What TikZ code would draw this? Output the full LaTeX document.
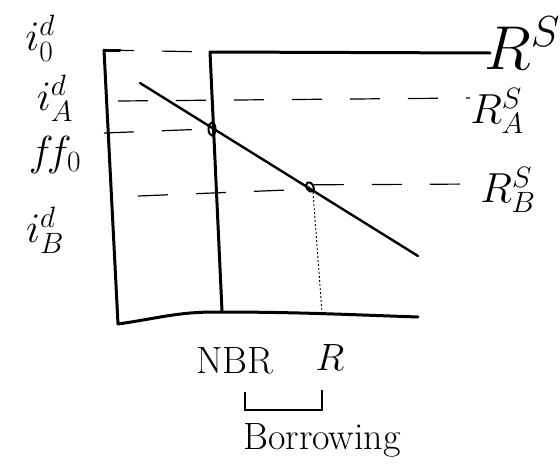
\RequirePackage{fix-cm}
\documentclass[tikz,border=0pt]{standalone}
\usepackage{amsmath}
\usepackage{tikz}
\usetikzlibrary{positioning,calc,shapes.geometric}
\tikzset{
  axisln/.style={line width=3pt,line cap=round,line join=round},
  curveln/.style={line width=2.4pt,line cap=round},
  dashln/.style={line width=1.2pt,dash pattern=on 30pt off 28pt},
  dotln/.style={line width=0.9pt,dash pattern=on 2pt off 2pt},
  lbl/.style={font=\fontsize{42}{44}\selectfont,inner sep=0pt},
  biglbl/.style={font=\fontsize{62}{64}\selectfont,inner sep=0pt},
  txt/.style={font=\fontsize{38}{40}\selectfont,inner sep=0pt},
  pt/.style={draw,line width=2pt,ellipse,minimum width=7pt,minimum height=13pt,inner sep=0pt},
}
\begin{document}
\begin{tikzpicture}[x=1pt,y=-1pt]
  \useasboundingbox (0,0) rectangle (560,466);
  % axes
  \coordinate (O)   at (118,324);
  \coordinate (Ytop) at (104,50);
  \coordinate (Xend) at (418,317);
  \draw[axisln] (Ytop) -- ++(16,0);
  \draw[axisln] (Ytop) -- (O) to[out=8,in=180] (215,312) to[out=0,in=178] (Xend);
  % supply of reserves
  \coordinate (Stop) at (210,52);
  \coordinate (Sbot) at (222,311);
  \coordinate (Send) at (490,53);
  \draw[axisln] (Sbot) -- (Stop) -- (Send);
  % demand
  \coordinate (D1) at (140,83);
  \coordinate (D2) at (418,256);
  \draw[curveln] (D1) -- (D2);
  \node[pt] (E1) at (212,129) {};
  \node[pt,minimum height=10pt,rotate=30] (E2) at (310,187) {};
  % labels
  \node[lbl] (i0) at (40,38) {$i^d_0$};
  \node[lbl] (iA) at (55,98) {$i^d_A$};
  \node[lbl] (ff) at (55,155) {$f\!f_0$};
  \node[lbl] (iB) at (45,230) {$i^d_B$};
  \node[biglbl] (RS) at (522,43) {$R^S$};
  \node[lbl] (RSA) at (497,111) {$R^S_A$};
  \node[lbl] (RSB) at (508,190) {$R^S_B$};
  \node[txt] (NBR) at (235,361) {NBR};
  \node[txt] (R) at (330,358) {$R$};
  \node[txt] (Bor) at (322,440) {Borrowing};
  % dashed levels
  \draw[dashln] (Ytop) -- (Stop);
  \draw[dashln] (118,101) -- (RSA.west |- 0,98);
  \draw[dashln] (104,133) -- (E1.west);
  \draw[dashln] (138,196) -- (E2.west);
  \draw[dashln] (E2.east) -- (RSB.west |- 0,184);
  \draw[dotln] (E2.south) -- (322,312);
  % bracket
  \draw[line width=1.5pt] (245,392) -- (245,410) -- (322,410) -- (322,390);
\end{tikzpicture}
\end{document}
